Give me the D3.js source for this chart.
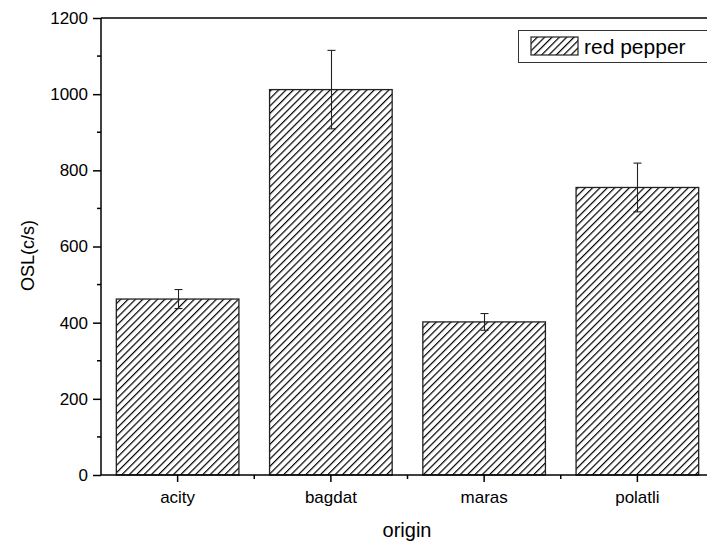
<!DOCTYPE html>
<html><head><meta charset="utf-8">
<script src="https://cdn.jsdelivr.net/npm/d3@7/dist/d3.min.js"></script>
<style>body{margin:0;background:#fff}svg{display:block}text{font-family:"Liberation Sans",Arial,sans-serif}</style>
</head><body><svg id="c" width="707" height="548"></svg>
<script>
const categories = ["acity","bagdat","maras","polatli"];
const values = [462, 1012, 402, 755];
const errors = [25, 103, 22, 64];
const yTicks = [0,200,400,600,800,1000,1200];
const seriesName = "red pepper";

const svg = d3.select("#c");
const L=101, R=714, T=18, B=475;
const x = d3.scaleBand().domain(categories).range([L,R]).paddingInner(0.2).paddingOuter(0.1);
const y = d3.scaleLinear().domain([0,1200]).range([B,T]);

const defs = svg.append("defs");
const pat = defs.append("pattern").attr("id","hatch").attr("patternUnits","userSpaceOnUse")
  .attr("width",5.2).attr("height",5.2).attr("patternTransform","rotate(45)");
pat.append("rect").attr("width",5.2).attr("height",5.2).attr("fill","#fff");
pat.append("line").attr("x1",0.6).attr("y1",0).attr("x2",0.6).attr("y2",5.2).attr("stroke","#000").attr("stroke-width",1.2);

// bars
svg.selectAll("rect.bar").data(categories).enter().append("rect").attr("class","bar")
  .attr("x",d=>x(d)).attr("y",(d,i)=>y(values[i])).attr("width",x.bandwidth())
  .attr("height",(d,i)=>B-y(values[i])).attr("fill","url(#hatch)").attr("stroke","#222").attr("stroke-width",1.3);

// error bars
const eg = svg.append("g").attr("stroke","#222").attr("stroke-width",1.1);
categories.forEach((c,i)=>{
  const cx = Math.round(x(c)+x.bandwidth()/2)+0.5;
  eg.append("line").attr("x1",cx).attr("x2",cx).attr("y1",y(values[i]+errors[i])).attr("y2",y(values[i]-errors[i]));
  [values[i]+errors[i], values[i]-errors[i]].forEach(v=>{
    eg.append("line").attr("x1",cx-4).attr("x2",cx+4).attr("y1",y(v)).attr("y2",y(v));
  });
});

// frame top/right
svg.append("line").attr("x1",L).attr("x2",R).attr("y1",T).attr("y2",T).attr("stroke","#000").attr("stroke-width",1.5);
svg.append("line").attr("x1",R).attr("x2",R).attr("y1",T).attr("y2",B).attr("stroke","#000").attr("stroke-width",1.5);

// y axis
const yAxis = svg.append("g").attr("transform",`translate(${L},0)`)
  .call(d3.axisLeft(y).tickValues(yTicks).tickSize(8).tickPadding(5).tickFormat(d3.format("d")));
yAxis.attr("font-size",17).attr("font-family",null);
yAxis.select(".domain").attr("stroke-width",1.5).attr("d",`M0,${T}V${B}`);
yAxis.selectAll(".tick line").attr("stroke-width",1.5);
yAxis.selectAll("text").style("font-size","17px").attr("fill","#000");
const yMinor = d3.range(100,1200,200);
svg.append("g").selectAll("line").data(yMinor).enter().append("line")
  .attr("x1",L-4).attr("x2",L).attr("y1",d=>y(d)).attr("y2",d=>y(d)).attr("stroke","#000").attr("stroke-width",1.5);

// x axis
const xAxis = svg.append("g").attr("transform",`translate(0,${B})`)
  .call(d3.axisBottom(x).tickSize(7).tickPadding(9));
xAxis.attr("font-size",17).attr("font-family",null);
xAxis.select(".domain").attr("stroke-width",1.5).attr("d",`M${L},0H${R}`);
xAxis.selectAll(".tick line").attr("stroke-width",1.5);
xAxis.selectAll("text").style("font-size","17px").attr("fill","#000");
const xMinor = categories.slice(1).map(c=>x(c)-x.step()*x.paddingInner()/2);
svg.append("g").selectAll("line").data(xMinor).enter().append("line")
  .attr("x1",d=>d).attr("x2",d=>d).attr("y1",B).attr("y2",B+4).attr("stroke","#000").attr("stroke-width",1.5);

// axis titles
svg.append("text").attr("x",407).attr("y",537).attr("text-anchor","middle").style("font-size","20px").text("origin");
svg.append("text").attr("transform",`translate(34,${(T+B)/2+9}) rotate(-90)`).attr("text-anchor","middle").style("font-size","18px").text("OSL(c/s)");

// legend
const lg = svg.append("g");
lg.append("rect").attr("x",518.5).attr("y",30.5).attr("width",200).attr("height",32).attr("fill","#fff").attr("stroke","#333").attr("stroke-width",1);
lg.append("rect").attr("x",531).attr("y",37).attr("width",47).attr("height",18).attr("fill","url(#hatch)").attr("stroke","#222").attr("stroke-width",1.2);
lg.append("text").attr("x",584).attr("y",54).style("font-size","21px").text(seriesName);
</script></body></html>
